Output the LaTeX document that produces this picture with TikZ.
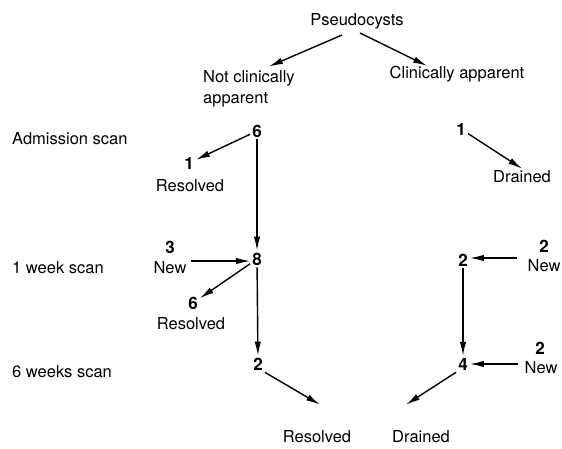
\documentclass[tikz,border=0pt]{standalone}
\usepackage{fontspec}
\setmainfont{TeX Gyre Heros}
\usetikzlibrary{arrows.meta}
\begin{document}
\begin{tikzpicture}[x=1pt,y=-1pt,
  every node/.style={font=\fontsize{16.5}{21}\selectfont, inner sep=2pt},
  num/.style={font=\fontsize{17}{21}\selectfont\bfseries},
  arr/.style={line width=1.4pt, -{Latex[length=14pt,width=6.5pt]}}]
\useasboundingbox (0,0) rectangle (562,448);
\node (ps) at (357,21) {Pseudocysts};
\node[align=left, anchor=west] (nca) at (201,89) {Not clinically\\apparent};
\node (ca) at (457,74) {Clinically apparent};
\node[anchor=west] (adm) at (10,139) {Admission scan};
\node[anchor=west] (wk1) at (10,268) {1 week scan};
\node[anchor=west] (wk6) at (10,372) {6 weeks scan};
\node[num] (a6) at (257,131) {6};
\node[num] (a1) at (189,163) {1};
\node (ar) at (190,186) {Resolved};
\node[num] (b1) at (461,129) {1};
\node (bd) at (522,177) {Drained};
\node[num] (a8) at (257,259) {8};
\node[num] (n3) at (170,247) {3};
\node (new3) at (170,268) {New};
\node[num] (a6b) at (193,303) {6};
\node (res6) at (191,324) {Resolved};
\node[num] (b2) at (463,260) {2};
\node[num] (n2a) at (544,246) {2};
\node (new2a) at (544,266) {New};
\node[num] (a2) at (258,364) {2};
\node[num] (b4) at (463,364) {4};
\node[num] (n2b) at (540,348) {2};
\node (new2b) at (541,368) {New};
\node (resf) at (317,437) {Resolved};
\node (drf) at (421,437) {Drained};
% connectors
\draw[arr] ([xshift=-15pt,yshift=-4pt]ps.south) -- ([xshift=20pt,yshift=2pt]nca.north);
\draw[arr] ([xshift=3pt,yshift=-2pt]ps.south) -- ([xshift=-30pt,yshift=-2pt]ca.north);
\draw[arr] (a6) -- (a1);
\draw[arr] (a6) -- (a8);
\draw[arr] (b1) -- (bd.north);
\draw[arr] ([yshift=7pt,xshift=2pt]new3.east) -- ([yshift=-2pt]a8.west);
\draw[arr] (a8) -- (a6b);
\draw[arr] (a8) -- (a2);
\draw[arr] ([yshift=8pt,xshift=-8pt]new2a.west) -- ([yshift=2pt]b2.east);
\draw[arr] (b2) -- (b4);
\draw[arr] ([yshift=4pt,xshift=-4pt]new2b.west) -- (b4.east);
\draw[arr] (a2.south east) -- ([xshift=3pt,yshift=24pt]resf.north);
\draw[arr] (b4.south west) -- ([xshift=-15pt,yshift=24pt]drf.north);
\end{tikzpicture}
\end{document}
